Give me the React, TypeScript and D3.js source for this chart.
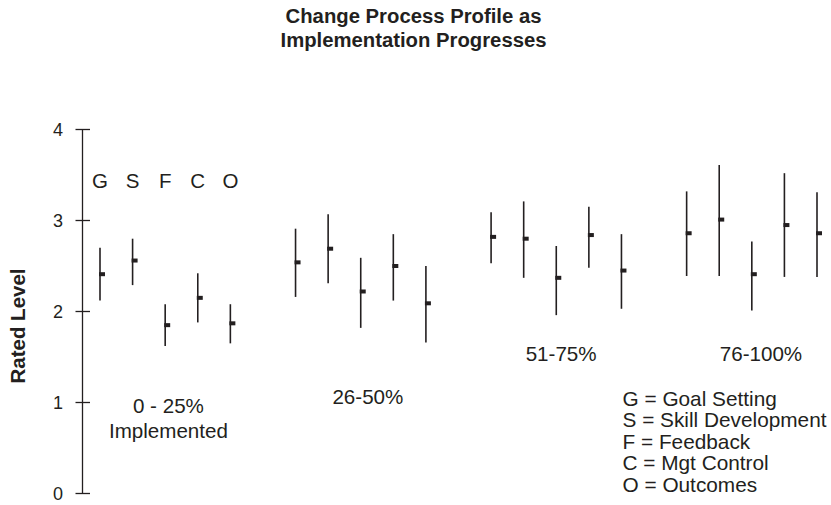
import React from "react";
import * as d3 from "d3";

const processes = ["G", "S", "F", "C", "O"];
const groupLabels = [["0 - 25%", "Implemented"], ["26-50%"], ["51-75%"], ["76-100%"]];
const yTicks = [0, 1, 2, 3, 4];
const legendItems = [
  "G = Goal Setting",
  "S = Skill Development",
  "F = Feedback",
  "C = Mgt Control",
  "O = Outcomes",
];

// values per group, order G S F C O
const mean0to25 = [2.41, 2.56, 1.85, 2.15, 1.87];
const low0to25 = [2.12, 2.29, 1.62, 1.88, 1.65];
const high0to25 = [2.70, 2.80, 2.08, 2.42, 2.08];

const mean26to50 = [2.54, 2.69, 2.22, 2.5, 2.09];
const low26to50 = [2.16, 2.31, 1.82, 2.12, 1.66];
const high26to50 = [2.91, 3.07, 2.59, 2.85, 2.5];

const mean51to75 = [2.82, 2.8, 2.37, 2.84, 2.45];
const low51to75 = [2.53, 2.37, 1.96, 2.48, 2.03];
const high51to75 = [3.09, 3.21, 2.72, 3.15, 2.85];

const mean76to100 = [2.86, 3.01, 2.41, 2.95, 2.86];
const low76to100 = [2.39, 2.39, 2.01, 2.38, 2.38];
const high76to100 = [3.32, 3.61, 2.77, 3.52, 3.31];

const means = [mean0to25, mean26to50, mean51to75, mean76to100];
const lows = [low0to25, low26to50, low51to75, low76to100];
const highs = [high0to25, high26to50, high51to75, high76to100];

const W = 831;
const H = 505;
const ink = "#231f20";
const font = "'Liberation Sans', Arial, Helvetica, sans-serif";

export default function App() {
  const y = d3.scaleLinear().domain([0, 4]).range([493.5, 129.5]);
  const slots = processes.length + 1;
  const x = d3.scaleLinear().domain([0, 4 * slots - 2]).range([100, 817]);
  const axisX = 82.5;

  const marks: { key: string; cx: number; m: number; lo: number; hi: number }[] = [];
  means.forEach((g, gi) => {
    g.forEach((m, pi) => {
      marks.push({
        key: `${gi}-${pi}`,
        cx: x(gi * slots + pi),
        m,
        lo: lows[gi][pi],
        hi: highs[gi][pi],
      });
    });
  });

  const labelOffsets = [0.1, 0.22, 0.15, 0.28];
  const labelBaselines = [413, 404, 361, 361];

  return (
    <svg
      width={W}
      height={H}
      style={{ position: "absolute", left: 0, top: 0, background: "#fff" }}
      fontFamily={font}
    >
      <rect width={W} height={H} fill="#fff" />
      {/* title */}
      <text x={413.5} y={23} textAnchor="middle" fontWeight="bold" fontSize={20.3} fill={ink}>
        Change Process Profile as
      </text>
      <text x={413.5} y={47} textAnchor="middle" fontWeight="bold" fontSize={20.3} fill={ink}>
        Implementation Progresses
      </text>

      {/* y axis */}
      <line x1={axisX} x2={axisX} y1={y(0)} y2={y(4)} stroke={ink} strokeWidth={1.3} />
      {yTicks.map((t) => (
        <g key={t}>
          <line x1={axisX - 7} x2={axisX + 7.5} y1={y(t)} y2={y(t)} stroke={ink} strokeWidth={1.3} />
          <text x={63} y={y(t) + 6.5} textAnchor="end" fontSize={18} fill={ink}>
            {t}
          </text>
        </g>
      ))}
      <text
        transform={`translate(25,${326}) rotate(-90)`}
        textAnchor="middle"
        fontWeight="bold"
        fontSize={20.5}
        fill={ink}
      >
        Rated Level
      </text>

      {/* process letters */}
      {processes.map((p, i) => (
        <text key={p} x={x(i)} y={188} textAnchor="middle" fontSize={20.5} fill={ink}>
          {p}
        </text>
      ))}

      {/* range bars */}
      {marks.map((d) => (
        <g key={d.key}>
          <line x1={d.cx} x2={d.cx} y1={y(d.hi)} y2={y(d.lo)} stroke={ink} strokeWidth={1.6} />
          <rect x={d.cx - 1} y={y(d.m) - 2} width={6} height={4} fill={ink} />
        </g>
      ))}

      {/* group labels */}
      {groupLabels.map((lines, gi) => {
        const cx = x(gi * slots + 2 + labelOffsets[gi]);
        return (
          <text key={gi} textAnchor="middle" fontSize={20.6} fill={ink}>
            {lines.map((l, li) => (
              <tspan key={li} x={cx} y={labelBaselines[gi] + li * 25}>
                {l}
              </tspan>
            ))}
          </text>
        );
      })}

      {/* legend */}
      {legendItems.map((l, i) => (
        <text key={l} x={622.5} y={405.5 + i * 21.5} fontSize={20.8} fill={ink}>
          {l}
        </text>
      ))}
    </svg>
  );
}
